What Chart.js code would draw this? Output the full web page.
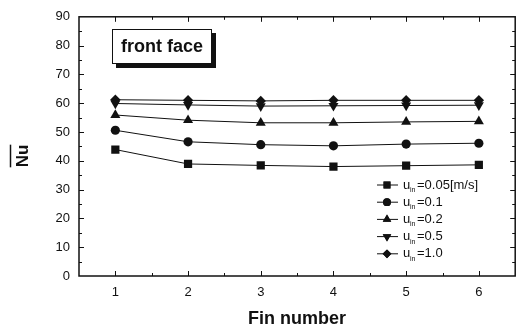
<!DOCTYPE html>
<html>
<head>
<meta charset="utf-8">
<script src="https://cdn.jsdelivr.net/npm/chart.js@4.4.1/dist/chart.umd.min.js"></script>
<style>
  html, body { margin: 0; padding: 0; background: #fff; }
  #wrap { width: 521px; height: 331px; }
</style>
</head>
<body>
<div id="wrap"><canvas id="nuChart" width="521" height="331"></canvas></div>
<script>
/* front face: mean Nusselt number per fin, one line per inlet velocity */

const finNumbers   = [1, 2, 3, 4, 5, 6];
const nuU005       = [43.9, 38.9, 38.4, 38.0, 38.3, 38.6];
const nuU01        = [50.6, 46.6, 45.6, 45.2, 45.8, 46.1];
const nuU02        = [55.9, 54.1, 53.2, 53.2, 53.5, 53.7];
const nuU05        = [59.9, 59.4, 59.0, 59.1, 59.2, 59.3];
const nuU10        = [61.2, 61.0, 60.8, 61.0, 61.0, 61.0];
const velocityText = ['0.05[m/s]', '0.1', '0.2', '0.5', '1.0'];
const yTicks       = [0, 10, 20, 30, 40, 50, 60, 70, 80, 90];

const FONT = "'Liberation Sans', Arial, sans-serif";
const INK  = '#111';

const seriesList = [nuU005, nuU01, nuU02, nuU05, nuU10];
const markers = [
  { style: 'rect',     radius: 5.8, rotation: 0 },
  { style: 'circle',   radius: 4.6, rotation: 0 },
  { style: 'triangle', radius: 5.8, rotation: 0 },
  { style: 'triangle', radius: 5.8, rotation: 180 },
  { style: 'rectRot',  radius: 5.2, rotation: 0 },
];

const datasets = seriesList.map((vals, i) => ({
  label: 'u_in=' + velocityText[i],
  data: finNumbers.map((f, k) => ({ x: f, y: vals[k] })),
  borderColor: INK,
  borderWidth: 1,
  backgroundColor: INK,
  pointStyle: markers[i].style,
  pointRadius: markers[i].radius,
  pointRotation: markers[i].rotation,
  pointBorderWidth: 0,
  pointBackgroundColor: INK,
  tension: 0,
}));

function drawMarker(ctx, m, x, y, r) {
  ctx.save();
  ctx.fillStyle = INK;
  Chart.helpers.drawPoint(ctx, { pointStyle: m.style, radius: r, rotation: m.rotation, borderWidth: 0 }, x, y);
  ctx.fill();
  ctx.restore();
}

const framePlugin = {
  id: 'frame',
  afterDraw(chart) {
    const { ctx, chartArea: a, scales } = chart;
    const xs = scales.x, ys = scales.y;
    ctx.save();

    // frame
    ctx.strokeStyle = INK;
    ctx.lineWidth = 1.5;
    ctx.strokeRect(a.left, a.top, a.right - a.left, a.bottom - a.top);

    // inward ticks
    ctx.lineWidth = 1;
    ctx.beginPath();
    for (let v = 5; v < 90; v += 5) {
      const py = Math.round(ys.getPixelForValue(v)) + 0.5;
      const len = v % 10 === 0 ? 5 : 3;
      ctx.moveTo(a.left, py);  ctx.lineTo(a.left + len, py);
      ctx.moveTo(a.right, py); ctx.lineTo(a.right - len, py);
    }
    for (let v = 1; v < 6.5; v += 0.5) {
      const px = Math.round(xs.getPixelForValue(v)) + 0.5;
      const len = Number.isInteger(v) ? 5 : 3;
      ctx.moveTo(px, a.bottom); ctx.lineTo(px, a.bottom - len);
      ctx.moveTo(px, a.top);    ctx.lineTo(px, a.top + len);
    }
    ctx.stroke();

    // axis titles
    ctx.fillStyle = INK;
    ctx.font = 'bold 18px ' + FONT;
    ctx.textAlign = 'center';
    ctx.textBaseline = 'alphabetic';
    ctx.fillText('Fin number', (a.left + a.right) / 2, 324);

    ctx.save();
    ctx.translate(28, 156);
    ctx.rotate(-Math.PI / 2);
    ctx.font = 'bold 17px ' + FONT;
    ctx.fillText('Nu', 0, 0);
    const w = ctx.measureText('Nu').width;
    ctx.lineWidth = 1.5;
    ctx.beginPath();
    ctx.moveTo(-w / 2, -17.5);
    ctx.lineTo(w / 2, -17.5);
    ctx.stroke();
    ctx.restore();

    // "front face" label box with drop shadow
    ctx.fillStyle = INK;
    ctx.fillRect(116, 33, 100, 35);
    ctx.fillStyle = '#fff';
    ctx.fillRect(112, 29, 100, 35);
    ctx.lineWidth = 1;
    ctx.strokeRect(112.5, 29.5, 99, 34);
    ctx.fillStyle = INK;
    ctx.font = 'bold 18px ' + FONT;
    ctx.textBaseline = 'middle';
    ctx.fillText('front face', 162, 47);

    // legend
    chart.data.datasets.forEach((ds, i) => {
      const y = 185 + i * 17.2;
      ctx.lineWidth = 1;
      ctx.strokeStyle = INK;
      ctx.beginPath();
      ctx.moveTo(377, y); ctx.lineTo(398, y);
      ctx.stroke();
      drawMarker(ctx, markers[i], 387, y, markers[i].radius * 0.85);
      ctx.fillStyle = INK;
      ctx.textAlign = 'left';
      ctx.textBaseline = 'middle';
      ctx.font = '13px ' + FONT;
      ctx.fillText('u', 403, y);
      ctx.font = '7px ' + FONT;
      ctx.fillText('in', 410, y + 5);
      ctx.font = '13px ' + FONT;
      ctx.fillText(ds.label.replace('u_in', ''), 417, y);
    });

    ctx.restore();
  }
};

new Chart(document.getElementById('nuChart'), {
  type: 'line',
  data: { datasets },
  plugins: [framePlugin],
  options: {
    responsive: false,
    animation: false,
    devicePixelRatio: 1,
    layout: { padding: { top: 14, right: 2, left: 0, bottom: 0 } },
    plugins: { legend: { display: false }, tooltip: { enabled: false } },
    scales: {
      x: {
        type: 'linear',
        min: 0.5,
        max: 6.5,
        afterBuildTicks: s => { s.ticks = finNumbers.map(v => ({ value: v })); },
        afterFit: s => { s.height = 55; },
        grid: { display: false, drawTicks: false },
        border: { display: false },
        ticks: { color: INK, padding: 9, font: { family: FONT, size: 13 } },
      },
      y: {
        min: 0,
        max: 90,
        afterBuildTicks: s => { s.ticks = yTicks.map(v => ({ value: v })); },
        afterFit: s => { s.width = 79; },
        grid: { display: false, drawTicks: false },
        border: { display: false },
        ticks: { color: INK, padding: 9, font: { family: FONT, size: 13 } },
      }
    }
  }
});
</script>
</body>
</html>
